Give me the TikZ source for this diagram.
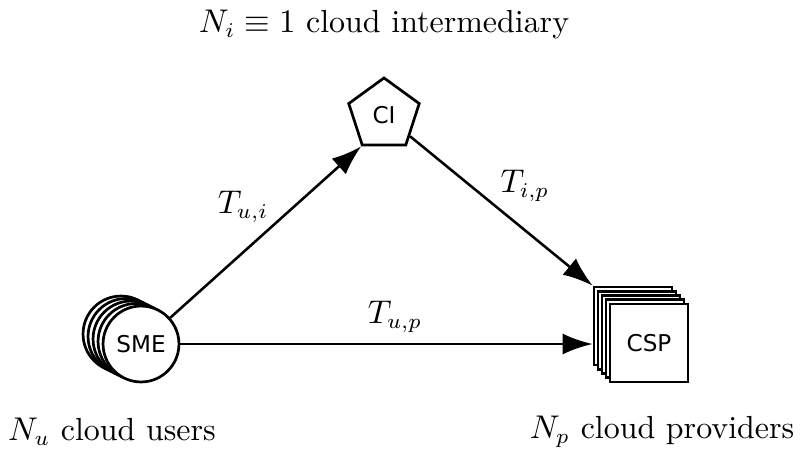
\documentclass[tikz,border=0pt]{standalone}
\usepackage{fontspec}
\newfontfamily\boxfont{DejaVu Sans}
\usetikzlibrary{shapes.geometric,arrows.meta}
\begin{document}
\begin{tikzpicture}[x=0.3333pt,y=-0.3333pt,
  ent/.style={draw=black,fill=white,line width=0.9pt,inner sep=0pt,font=\boxfont\fontsize{7.7}{9}\selectfont},
  smec/.style={ent,circle,minimum size=25.3pt},
  cspq/.style={ent,rectangle,minimum size=26pt},
  cip/.style={ent,regular polygon,regular polygon sides=5,minimum size=24.7pt},
  conn/.style={line width=0.85pt,-{Latex[length=10pt,width=7pt]}},
  lbl/.style={font=\fontsize{10.65}{12.5}\selectfont}]
\useasboundingbox (0,0) rectangle (800,453);
% SME stack
\foreach \k in {4,3,2,1}{
  \node[smec] (smeb\k) at ({141-5*\k},{344-2.5*\k}) {};
}
\node[smec] (sme) at (141,344) {SME};
% CSP stack
\foreach \k in {4,3,2,1}{
  \node[cspq] (cspb\k) at ({649-4*\k},{343-4.25*\k}) {};
}
\node[cspq] (csp) at (649,343) {CSP};
% CI
\node[cip] (ci) at (384,115) {CI};
% connectors
\draw[conn] (sme) -- (ci.corner 3);
\draw[conn] (ci) -- (cspb4.north west);
\draw[conn] (sme) -- (sme -| cspb4.west);
% labels
\node[lbl] (tui) at (243,207) {$T_{u,i}$};
\node[lbl] (tip) at (525,186) {$T_{i,p}$};
\node[lbl] (tup) at (395,317) {$T_{u,p}$};
\node[lbl] (title) at (384,25) {$N_i\equiv 1$ cloud intermediary};
\node[lbl] (users) at (112,432) {$N_u$ cloud users};
\node[lbl] (prov) at (662,432) {$N_p$ cloud providers};
\end{tikzpicture}
\end{document}
